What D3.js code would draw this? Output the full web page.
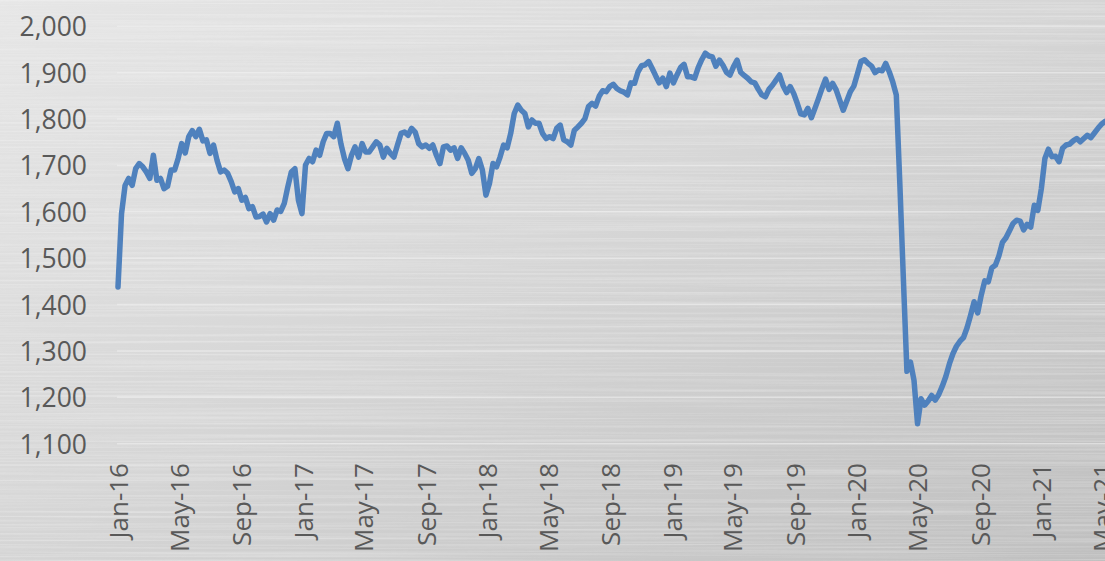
<!DOCTYPE html>
<html>
<head>
<meta charset="utf-8">
<script src="https://cdn.jsdelivr.net/npm/d3@7"></script>
<style>
  html, body { margin: 0; padding: 0; background: #d4d4d4; overflow: hidden; }
  .chart text { font-family: "Open Sans", "Noto Sans", sans-serif; fill: #595959; }
</style>
</head>
<body>
<div class="chart"></div>
<script>
var svgWidth = 1105;
var svgHeight = 561;

// weekly values, first week starts 1 Jan 2016
var firstWeek = "2016-01-01";
var v2016 = [1438, 1596, 1657, 1672, 1657, 1693, 1704, 1697, 1686, 1672, 1722, 1668, 1672, 1650, 1655, 1690,
  1690, 1715, 1747, 1727, 1762, 1775, 1762, 1778, 1753, 1755, 1726, 1744, 1711, 1686, 1690, 1683, 1665, 1643,
  1650, 1625, 1631, 1607, 1611, 1589, 1590, 1595, 1578, 1596, 1582, 1604, 1601, 1618, 1654, 1686, 1693, 1625, 1596];
var v2017 = [1701, 1715, 1708, 1733, 1722, 1751, 1769, 1769, 1762, 1791, 1747, 1715, 1693, 1722, 1740, 1718,
  1747, 1729, 1729, 1740, 1751, 1744, 1718, 1737, 1726, 1718, 1744, 1769, 1772, 1765, 1780, 1772, 1747, 1740,
  1744, 1737, 1744, 1722, 1704, 1740, 1742, 1733, 1738, 1715, 1738, 1726, 1711, 1683, 1693, 1715, 1690, 1636];
var v2018 = [1661, 1704, 1697, 1718, 1744, 1738, 1769, 1812, 1830, 1819, 1812, 1783, 1798, 1791, 1791, 1769,
  1758, 1762, 1758, 1780, 1787, 1755, 1751, 1744, 1776, 1783, 1791, 1801, 1827, 1834, 1828, 1849, 1861, 1859,
  1870, 1875, 1866, 1861, 1858, 1852, 1878, 1877, 1902, 1915, 1917, 1924, 1909, 1893, 1878, 1888, 1870, 1899];
var v2019 = [1878, 1895, 1911, 1918, 1891, 1891, 1888, 1911, 1928, 1942, 1936, 1934, 1914, 1927, 1916, 1901,
  1895, 1913, 1927, 1901, 1894, 1888, 1880, 1878, 1864, 1852, 1848, 1864, 1873, 1884, 1895, 1872, 1857, 1870,
  1855, 1834, 1811, 1809, 1823, 1803, 1823, 1844, 1866, 1886, 1864, 1877, 1863, 1841, 1819, 1839, 1859, 1871];
var v2020 = [1897, 1924, 1928, 1920, 1914, 1900, 1906, 1904, 1920, 1902, 1880, 1852, 1660, 1455, 1256, 1276,
  1237, 1143, 1197, 1183, 1192, 1204, 1194, 1206, 1224, 1245, 1272, 1294, 1310, 1321, 1329, 1350, 1377, 1406,
  1382, 1420, 1451, 1449, 1479, 1485, 1505, 1534, 1544, 1559, 1575, 1582, 1580, 1561, 1573, 1567, 1614, 1603];
var v2021 = [1650, 1715, 1735, 1719, 1720, 1708, 1737, 1744, 1746, 1753, 1758, 1751, 1758, 1765, 1760, 1770,
  1780, 1789, 1795];

var yTicks = [1100, 1200, 1300, 1400, 1500, 1600, 1700, 1800, 1900, 2000];
var xTickLabels = ["Jan-16", "May-16", "Sep-16", "Jan-17", "May-17", "Sep-17", "Jan-18", "May-18", "Sep-18",
  "Jan-19", "May-19", "Sep-19", "Jan-20", "May-20", "Sep-20", "Jan-21", "May-21"];

var parseLabel = d3.timeParse("%b-%y");
var start = d3.timeParse("%Y-%m-%d")(firstWeek);
var values = [].concat(v2016, v2017, v2018, v2019, v2020, v2021);
var data = values.map(function(v, i) {
  return { date: d3.timeDay.offset(start, 7 * i), value: v };
});

var svg = d3.select(".chart")
  .append("svg")
  .attr("width", svgWidth)
  .attr("height", svgHeight);

// brushed metal background
var defs = svg.append("defs");
var bg = defs.append("linearGradient")
  .attr("id", "bg")
  .attr("x1", "0").attr("y1", "0").attr("x2", "1").attr("y2", "1");
bg.append("stop").attr("offset", "0%").attr("stop-color", "#e6e6e6");
bg.append("stop").attr("offset", "45%").attr("stop-color", "#d7d7d7");
bg.append("stop").attr("offset", "100%").attr("stop-color", "#bfbfbf");

var brush = defs.append("filter")
  .attr("id", "brush")
  .attr("x", 0).attr("y", 0).attr("width", "100%").attr("height", "100%");
brush.append("feTurbulence")
  .attr("type", "fractalNoise")
  .attr("baseFrequency", "0.002 0.45")
  .attr("numOctaves", 3)
  .attr("seed", 4)
  .attr("result", "noise");
brush.append("feColorMatrix")
  .attr("in", "noise")
  .attr("type", "matrix")
  .attr("values", "0 0 0 0 1  0 0 0 0 1  0 0 0 0 1  1.1 0 0 0 -0.45");

svg.append("rect")
  .attr("width", svgWidth)
  .attr("height", svgHeight)
  .attr("fill", "url(#bg)");
svg.append("rect")
  .attr("width", svgWidth)
  .attr("height", svgHeight)
  .attr("filter", "url(#brush)")
  .attr("opacity", 0.6);

var xScale = d3.scaleTime()
  .domain([parseLabel("Jan-16"), parseLabel("May-21")])
  .range([118, 1102]);

var yScale = d3.scaleLinear()
  .domain([1100, 2000])
  .range([443.7, 26.3]);

// gridlines
svg.append("g")
  .selectAll("line")
  .data(yTicks)
  .enter()
  .append("line")
  .attr("x1", 117)
  .attr("x2", svgWidth)
  .attr("y1", d => yScale(d))
  .attr("y2", d => yScale(d))
  .attr("stroke", "#f0f0f0")
  .attr("stroke-width", 1.5)
  .attr("opacity", 0.6);

// y axis
var leftAxis = d3.axisLeft(yScale)
  .tickValues(yTicks)
  .tickFormat(d3.format(","))
  .tickSize(0)
  .tickPadding(0);

var yAxis = svg.append("g")
  .attr("transform", "translate(87, 0)")
  .call(leftAxis);
yAxis.select(".domain").remove();
yAxis.selectAll("text")
  .attr("font-size", "26.5px")
  .attr("dy", "0.36em");

// x axis
var bottomAxis = d3.axisBottom(xScale)
  .tickValues(xTickLabels.map(parseLabel))
  .tickFormat(d3.timeFormat("%b-%y"))
  .tickSize(0);

var xAxis = svg.append("g")
  .attr("transform", "translate(0, 463)")
  .call(bottomAxis);
xAxis.select(".domain").remove();
xAxis.selectAll("text")
  .attr("font-size", "26px")
  .attr("text-anchor", "end")
  .attr("y", 0)
  .attr("x", 0)
  .attr("dy", "0.36em")
  .attr("transform", "rotate(-90)");

// the line
var line = d3.line()
  .x(d => xScale(d.date))
  .y(d => yScale(d.value));

svg.append("path")
  .datum(data)
  .attr("d", line)
  .attr("fill", "none")
  .attr("stroke", "#4f81bd")
  .attr("stroke-width", 5.5)
  .attr("stroke-linejoin", "round")
  .attr("stroke-linecap", "round");
</script>
</body>
</html>
